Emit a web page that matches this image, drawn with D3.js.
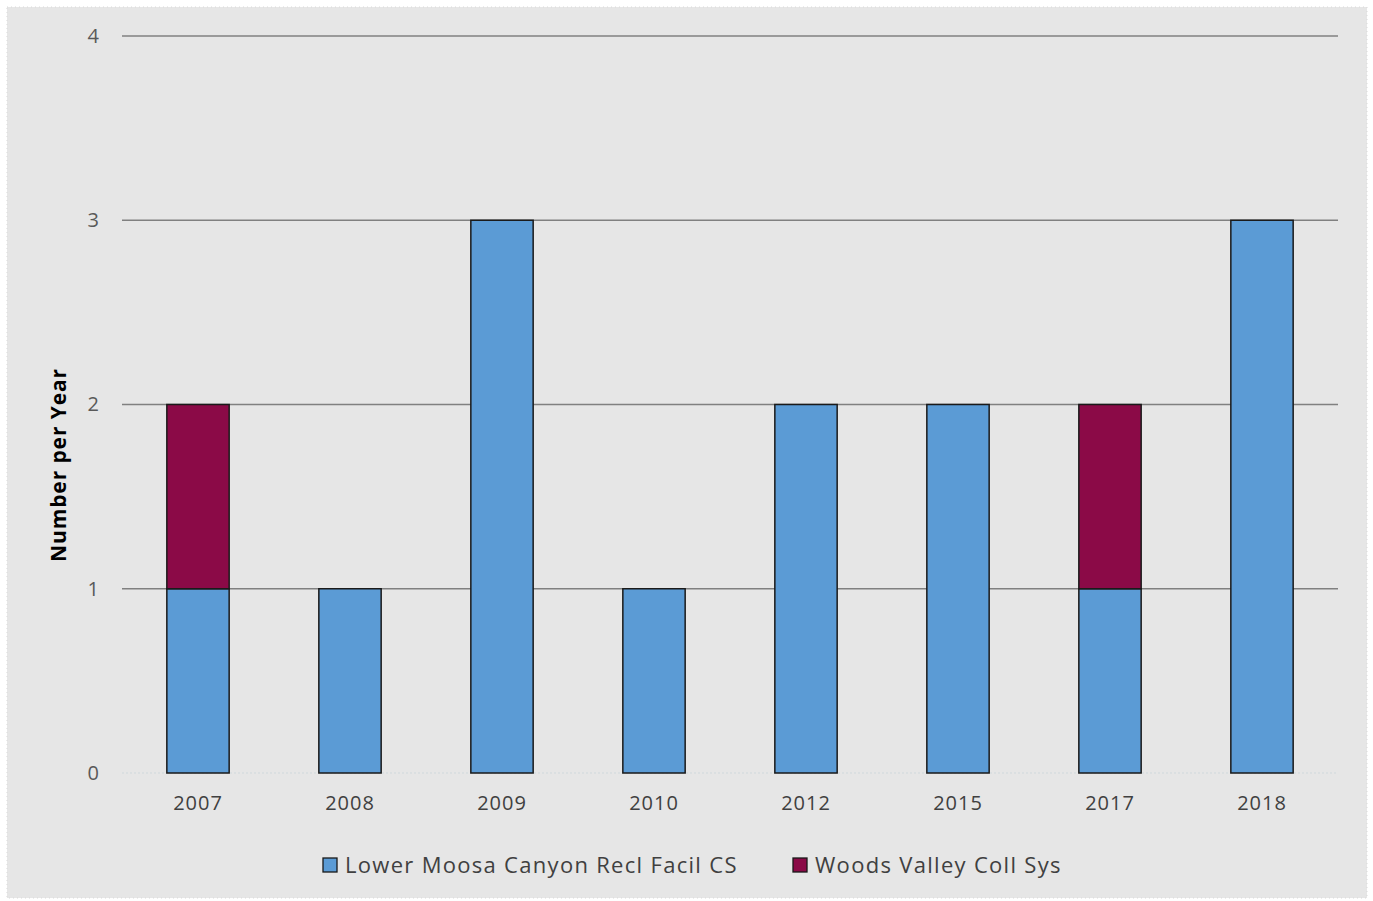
<!DOCTYPE html>
<html>
<head>
<meta charset="utf-8">
<script src="https://cdn.jsdelivr.net/npm/d3@7"></script>
<style>
  html, body { margin: 0; padding: 0; background: #ffffff; }
  svg { display: block; }
</style>
</head>
<body>
<svg id="chart" width="1373" height="901"></svg>
<script>
// Incidents per year, stacked by collection system
const years = ["2007", "2008", "2009", "2010", "2012", "2015", "2017", "2018"];
const lowerMoosa = [1, 1, 3, 1, 2, 2, 1, 3];
const woodsValley = [1, 0, 0, 0, 0, 0, 1, 0];
const seriesNames = ["Lower Moosa Canyon Recl Facil CS", "Woods Valley Coll Sys"];
const seriesColors = ["#5b9bd5", "#8b0a47"];
const yTicks = [0, 1, 2, 3, 4];

const svg = d3.select("#chart");
const font = "'Open Sans', 'Noto Sans', sans-serif";

// chart area background
svg.append("rect")
  .attr("x", 7).attr("y", 7).attr("width", 1360).attr("height", 891)
  .attr("fill", "#e6e6e6")
  .attr("stroke", "#d9d9d9").attr("stroke-dasharray", "1,3");

const x = d3.scaleBand().domain(years).range([122, 1338]).paddingInner(0.59).paddingOuter(0.295);
const y = d3.scaleLinear().domain([0, 4]).range([773, 36]);

// gridlines
svg.append("g").selectAll("line").data(yTicks.filter(d => d > 0)).join("line")
  .attr("x1", 122).attr("x2", 1338)
  .attr("y1", d => y(d)).attr("y2", d => y(d))
  .attr("stroke", "#808080").attr("stroke-width", 1.3);

// baseline
svg.append("line")
  .attr("x1", 122).attr("x2", 1338).attr("y1", y(0)).attr("y2", y(0))
  .attr("stroke", "#cfd8dc").attr("stroke-dasharray", "2,2");

// y tick labels
const yAxis = svg.append("g").attr("transform", "translate(99,0)")
  .call(d3.axisLeft(y).tickValues(yTicks).tickSize(0).tickPadding(0).tickFormat(d3.format("d")));
yAxis.select(".domain").remove();
yAxis.selectAll("text")
  .attr("font-family", font).attr("font-size", 20).attr("fill", "#595959");

// x tick labels
const xAxis = svg.append("g").attr("transform", `translate(0,${y(0) + 23})`)
  .call(d3.axisBottom(x).tickSize(0).tickPadding(0));
xAxis.select(".domain").remove();
xAxis.selectAll("text")
  .attr("font-family", font).attr("font-size", 20).attr("letter-spacing", 1)
  .attr("fill", "#404040").attr("dy", "0.71em");

// stacked bars
const rows = years.map((yr, i) => ({ year: yr, a: lowerMoosa[i], b: woodsValley[i] }));
const stack = d3.stack().keys(["a", "b"])(rows);
svg.append("g").selectAll("g").data(stack).join("g")
  .attr("fill", (d, i) => seriesColors[i])
  .selectAll("rect").data(d => d.filter(s => s[1] - s[0] > 0)).join("rect")
  .attr("x", d => x(d.data.year))
  .attr("width", x.bandwidth())
  .attr("y", d => y(d[1]))
  .attr("height", d => y(d[0]) - y(d[1]))
  .attr("stroke", "#1a1a1a").attr("stroke-width", 1.5);

// y axis title
svg.append("text")
  .attr("transform", `translate(66,465) rotate(-90)`)
  .attr("text-anchor", "middle")
  .attr("font-family", font).attr("font-size", 21).attr("font-weight", "bold")
  .attr("letter-spacing", 0.9)
  .attr("fill", "#000").text("Number per Year");

// legend
const legend = svg.append("g").attr("transform", "translate(0,865)");
const legendX = [323, 793];
seriesNames.forEach((name, i) => {
  const g = legend.append("g").attr("transform", `translate(${legendX[i]},0)`);
  g.append("rect").attr("x", 0).attr("y", -7).attr("width", 14).attr("height", 14)
    .attr("fill", seriesColors[i]).attr("stroke", "#1a1a1a").attr("stroke-width", 1.3);
  g.append("text").attr("x", 22).attr("y", 0).attr("dy", "0.35em")
    .attr("font-family", font).attr("font-size", 22).attr("letter-spacing", 1.3)
    .attr("fill", "#404040").text(name);
});
</script>
</body>
</html>
